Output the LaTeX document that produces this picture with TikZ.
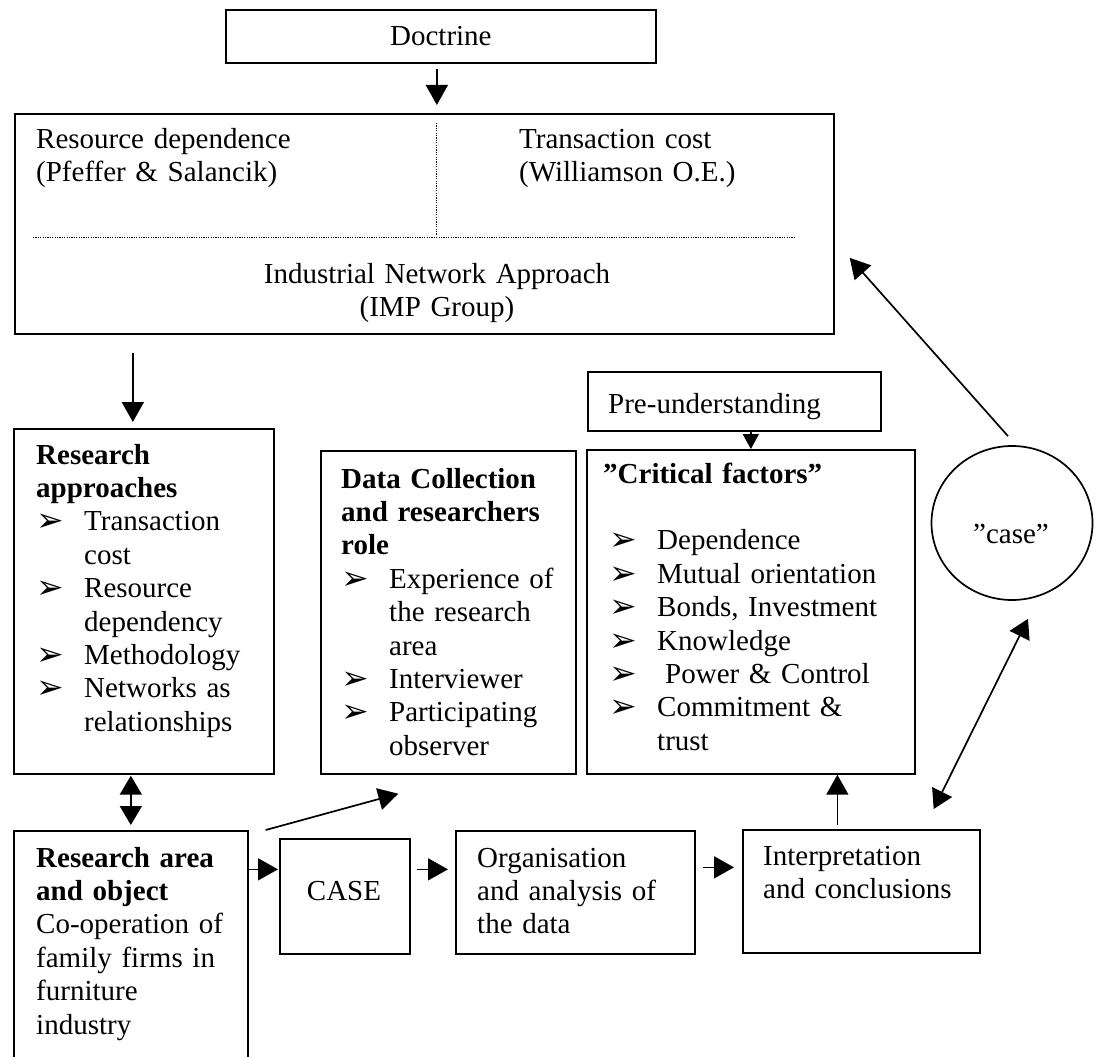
\documentclass[tikz,border=0pt]{standalone}
\usepackage{fontspec}
\setmainfont{Liberation Serif}
\newfontfamily\dingfont{DejaVu Sans}
\usetikzlibrary{arrows.meta,shapes.geometric}

% list marker and continuation indent
\newcommand{\bul}{\makebox[48pt][l]{\raisebox{-1pt}{\dingfont\fontsize{33}{33}\selectfont ➢}}}
\newcommand{\ind}{\hspace*{48pt}}

\begin{document}
\begin{tikzpicture}[x=1pt,y=-1pt,
  every node/.style={font=\fontsize{29}{33.4}\selectfont, inner sep=0pt},
  box/.style={draw, line width=1.7pt, anchor=north west},
  txt/.style={anchor=base west, align=left, text width=#1},
  arr/.style={line width=1.7pt, -{Triangle[length=20pt,width=22pt]}},
  dbl/.style={line width=1.7pt, {Triangle[length=19pt,width=22pt]}-{Triangle[length=19pt,width=22pt]}},
  sep/.style={line width=0.9pt, dash pattern=on 1.2pt off 1.2pt}
]
\useasboundingbox (0,0) rectangle (1101,1057);
\clip (0,0) rectangle (1101,1057);

% boxes
\node[box, minimum width=430pt, minimum height=53pt] (doc) at (225,9) {Doctrine};
\node[box, minimum width=819pt, minimum height=220pt] (main) at (14,113) {};
\node[box, minimum width=260pt, minimum height=345pt] (ra) at (13,428) {};
\node[box, minimum width=255pt, minimum height=323pt] (data) at (320,450) {};
\node[box, minimum width=293pt, minimum height=59pt] (pre) at (587,371) {};
\node[box, minimum width=328pt, minimum height=324pt] (crit) at (586,449) {};
\node[draw, line width=1.7pt, ellipse, minimum width=161pt, minimum height=154pt] (casec) at (1012,523) {};
\node[box, minimum width=234pt, minimum height=250pt] (area) at (13,830) {};
\node[box, minimum width=130pt, minimum height=115pt] (casebox) at (279,838) {};
\node[box, minimum width=239pt, minimum height=123pt] (org) at (455,830) {};
\node[box, minimum width=237pt, minimum height=123pt] (interp) at (742,829) {};

% dotted partitions of the theory box
\draw[sep] (436,123) -- (436,235);
\draw[sep] (33,237) -- (795,237);

% texts
\node[txt=320pt] (rdtext) at (36,148) {Resource dependence\\(Pfeffer \& Salancik)};
\node[txt=300pt] (tctext) at (519,148) {Transaction cost\\(Williamson O.E.)};
\node[anchor=base, align=center, text width=420pt] (imptext) at (437,283) {Industrial Network Approach\\(IMP Group)};

\node[txt=300pt] (ratext) at (36,464) {\textbf{Research}\\\textbf{approaches}\\
  \bul Transaction\\\ind cost\\\bul Resource\\\ind dependency\\
  \bul Methodology\\\bul Networks as\\\ind relationships};

\node[txt=300pt] (datatext) at (341,488) {\textbf{Data Collection}\\\textbf{and researchers}\\\textbf{role}\\
  \bul Experience of\\\ind the research\\\ind area\\\bul Interviewer\\
  \bul Participating\\\ind observer};

\node[anchor=base west] (pretext) at (608,413) {Pre-understanding};

\node[txt=340pt] (crittext) at (603,483) {\textbf{”Critical factors”}\\\mbox{}\\
  \hspace*{6pt}\bul Dependence\\\hspace*{6pt}\bul Mutual orientation\\
  \hspace*{6pt}\bul Bonds, Investment\\\hspace*{6pt}\bul Knowledge\\
  \hspace*{6pt}\bul\hspace*{8pt}Power \& Control\\\hspace*{6pt}\bul Commitment \&\\
  \hspace*{6pt}\ind trust};

\node[anchor=base] (casetext) at (1011,543) {”case”};

\node[txt=300pt] (areatext) at (36,867) {\textbf{Research area}\\\textbf{and object}\\
  Co-operation of\\family firms in\\furniture\\industry};
\node[anchor=base] (casetxt) at (344,900) {CASE};
\node[txt=300pt] (orgtext) at (477,867) {Organisation\\and analysis of\\the data};
\node[txt=300pt] (interptext) at (763,865) {Interpretation\\and conclusions};

% connectors
\draw[arr, shorten <=5pt, shorten >=8pt] ([xshift=-4pt]doc.south) -- ([xshift=-4pt]doc.south |- main.north);
\draw[arr, shorten <=18pt, shorten >=6pt] ([xshift=-11pt]ra.north |- main.south) -- ([xshift=-11pt]ra.north);
\draw[dbl, shorten <=1pt, shorten >=5pt] (area.north |- ra.south) -- (area.north);
\draw[arr] ([xshift=17pt]area.north east) -- ([shift={(-50pt,-19pt)}]data.south);
\draw[arr, shorten >=1pt] ([yshift=27pt]casebox.west -| area.east) -- ([yshift=27pt]casebox.west);
\draw[arr, shorten <=6pt, shorten >=7pt] ([yshift=27pt]casebox.east) -- ([yshift=27pt]casebox.east -| org.west);
\draw[arr, shorten <=7pt, shorten >=8pt] ([yshift=25pt]org.east) -- ([yshift=25pt]org.east -| interp.west);
\draw[arr, shorten <=4pt] ([xshift=-24pt]interp.north) -- ([xshift=-24pt]interp.north |- crit.south);
\draw[line width=1.7pt, -{Triangle[length=15pt,width=16pt]}] (crit.north |- pre.south) -- (crit.north);
\draw[arr] ([shift={(-4pt,9pt)}]casec.north) -- ([shift={(15pt,-34pt)}]main.east);
\draw[dbl] ([shift={(16pt,-18pt)}]casec.south) -- ([shift={(-47pt,20pt)}]interp.north east);
\end{tikzpicture}
\end{document}
